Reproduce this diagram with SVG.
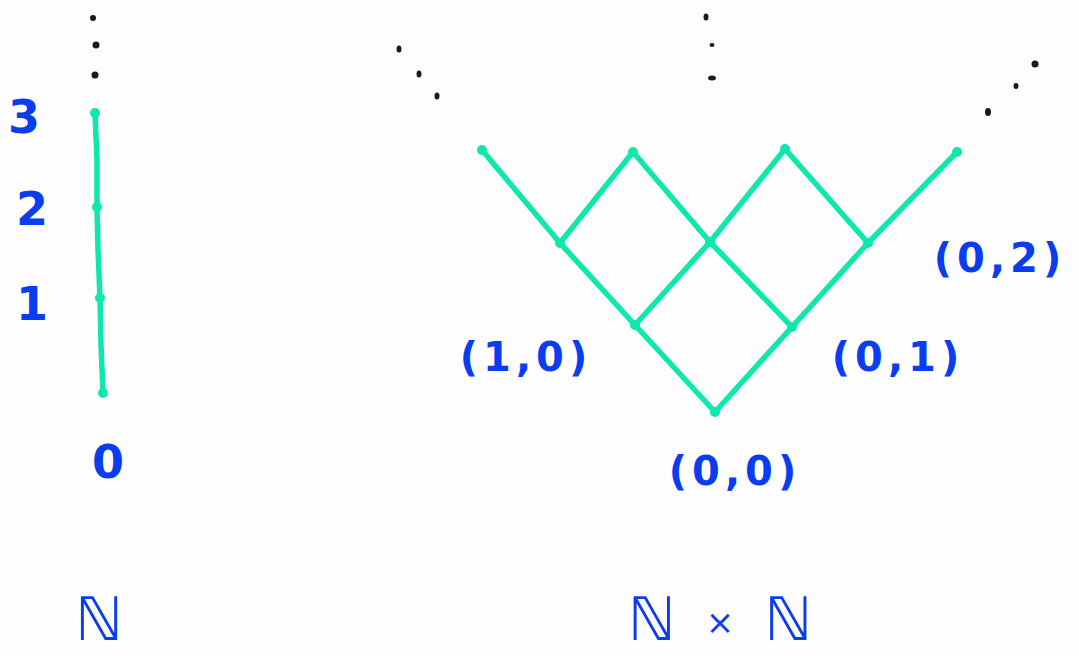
<svg xmlns="http://www.w3.org/2000/svg" width="1079" height="656" viewBox="0 0 1079 656">
<style>
.e{stroke:#0ee8ad;stroke-width:5.5;stroke-linecap:round;stroke-linejoin:round;fill:none}
.v{fill:#0ee8ad}
.d{fill:#1a1a1a}
.t{fill:#0a3cf0;font-family:"DejaVu Sans","Liberation Sans",sans-serif;font-weight:bold;text-anchor:middle}
.n{font-size:46px}
.p{font-size:40px;letter-spacing:5px}
.b{font-size:60px;font-weight:normal}
.x{font-size:34px}
</style>
<rect width="1079" height="656" fill="#fdfdfd"/>
<g id="connectors">
<polyline class="e" points="95,113 97,160 97,207 98,250 100,298 101,345 103,393"/>
<polyline class="e" points="482,150 560,243 635,325 715,412"/>
<polyline class="e" points="633,152 560,243"/>
<polyline class="e" points="633,152 710,242 792,327"/>
<polyline class="e" points="785,149 710,242 635,325"/>
<polyline class="e" points="785,149 868,243"/>
<polyline class="e" points="957,152 868,243 792,327 715,412"/>
</g>
<g id="dots">
<circle class="d" cx="93" cy="18" r="3"/>
<circle class="d" cx="96" cy="45" r="3.5"/>
<circle class="d" cx="95" cy="75" r="3.5"/>
<ellipse class="d" cx="399" cy="49" rx="2.5" ry="3.5"/>
<ellipse class="d" cx="419" cy="74" rx="2.5" ry="3.5"/>
<ellipse class="d" cx="437" cy="96" rx="2.5" ry="3.5"/>
<ellipse class="d" cx="706" cy="17" rx="2.5" ry="3.5"/>
<ellipse class="d" cx="712" cy="45" rx="2.5" ry="2"/>
<ellipse class="d" cx="712" cy="78" rx="4" ry="2.5"/>
<circle class="d" cx="1035" cy="64" r="3.5"/>
<ellipse class="d" cx="1016" cy="86" rx="2.5" ry="3"/>
<ellipse class="d" cx="988" cy="112" rx="3" ry="4"/>
</g>
<g id="n3"><circle class="v" cx="95" cy="113" r="5"/><text class="t n" x="24" y="133">3</text></g>
<g id="n2"><circle class="v" cx="97" cy="207" r="5"/><text class="t n" x="32" y="225">2</text></g>
<g id="n1"><circle class="v" cx="100" cy="298" r="5"/><text class="t n" x="32" y="320">1</text></g>
<g id="n0"><circle class="v" cx="103" cy="393" r="5"/><text class="t n" x="108" y="478">0</text></g>
<g id="t1"><circle class="v" cx="482" cy="150" r="5"/></g>
<g id="t2"><circle class="v" cx="633" cy="152" r="5"/></g>
<g id="t3"><circle class="v" cx="785" cy="149" r="5"/></g>
<g id="t4"><circle class="v" cx="957" cy="152" r="5"/></g>
<g id="m1"><circle class="v" cx="560" cy="243" r="5"/></g>
<g id="m2"><circle class="v" cx="710" cy="242" r="5"/></g>
<g id="p02"><circle class="v" cx="868" cy="243" r="5"/><text class="t p" x="1000" y="272">(0,2)</text></g>
<g id="p10"><circle class="v" cx="635" cy="325" r="5"/><text class="t p" x="526" y="371">(1,0)</text></g>
<g id="p01"><circle class="v" cx="792" cy="327" r="5"/><text class="t p" x="898" y="371">(0,1)</text></g>
<g id="p00"><circle class="v" cx="715" cy="412" r="5"/><text class="t p" x="735" y="485">(0,0)</text></g>
<g id="labelN"><text class="t b" x="99" y="640">ℕ</text></g>
<g id="labelNxN"><text class="t b" x="720" y="640" letter-spacing="0"><tspan>ℕ</tspan><tspan class="x" dx="30" dy="-6">×</tspan><tspan dx="30" dy="6">ℕ</tspan></text></g>
</svg>
